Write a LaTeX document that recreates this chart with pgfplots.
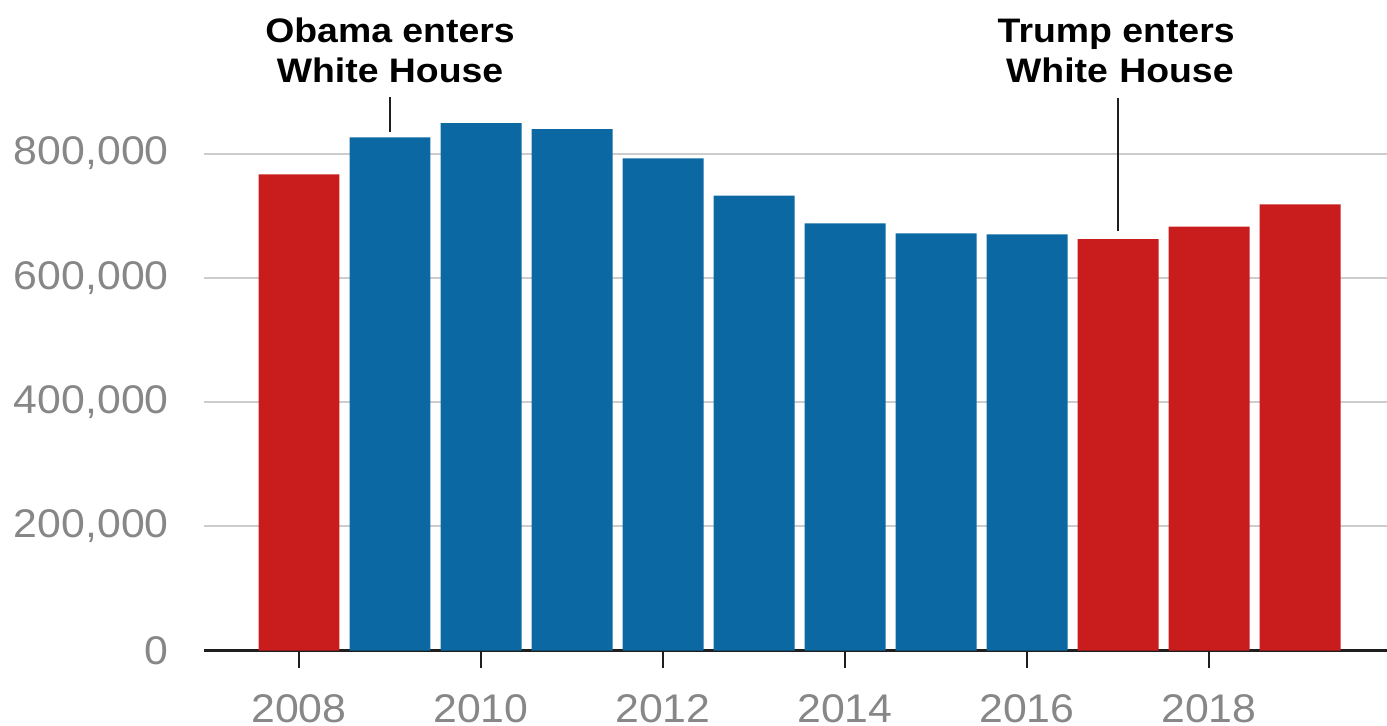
\documentclass[border=0pt]{standalone}
\usepackage{fontspec}
\setmainfont{Liberation Sans}
\newfontfamily\tickfont[FakeStretch=1.07]{Liberation Sans}
\newfontfamily\annfont[FakeStretch=1.1]{Liberation Sans}
\usepackage{pgfplots}
\pgfplotsset{compat=1.18}
\definecolor{barred}{RGB}{201,28,28}
\definecolor{barblue}{RGB}{11,104,163}
\definecolor{ticklab}{RGB}{135,135,135}
\definecolor{gridc}{RGB}{204,204,204}
\definecolor{axisc}{RGB}{30,30,30}
\begin{document}
\begin{tikzpicture}
\begin{axis}[
  scale only axis,
  width=591.5pt, height=310.6pt,
  xmin=2006.956, xmax=2019.956,
  ymin=0, ymax=1000000,
  ybar, bar width=0.89, bar shift=0pt,
  axis lines*=left,
  y axis line style={opacity=0},
  x axis line style={line width=1.75pt, color=axisc},
  xtick={2008,2010,2012,2014,2016,2018},
  xticklabels={2008,2010,2012,2014,2016,2018},
  ytick={0,200000,400000,600000,800000},
  yticklabels={0,{200,000},{400,000},{600,000},{800,000}},
  scaled y ticks=false,
  tick align=outside,
  major tick length=8.5pt,
  every x tick/.style={draw=axisc, line width=1pt},
  every y tick/.style={opacity=0},
  ymajorgrids,
  grid style={line width=1pt, color=gridc, opacity=1},
  ticklabel style={font=\tickfont\fontsize{20}{24}\selectfont, color=ticklab, inner sep=0pt},
  yticklabel style={anchor=east, xshift=-9pt},
  xticklabel style={anchor=north, yshift=-13.5pt},
  clip=false,
]
\addplot[fill=barred, draw=none] coordinates {
  (2008,766500) (2017,662400) (2018,682200) (2019,718200)
};
\addplot[fill=barblue, draw=none] coordinates {
  (2009,826100) (2010,849100) (2011,839400) (2012,792300)
  (2013,732100) (2014,687600) (2015,671500) (2016,669900)
};
\draw[line width=1pt, color=axisc] (axis cs:2009,891000) -- (axis cs:2009,834600);
\draw[line width=1pt, color=axisc] (axis cs:2017,889700) -- (axis cs:2017,675300);
\node[anchor=base, font=\annfont\bfseries\fontsize{17}{20}\selectfont, inner sep=0pt] at (axis cs:2009,979500) {Obama enters};
\node[anchor=base, font=\annfont\bfseries\fontsize{17}{20}\selectfont, inner sep=0pt] at (axis cs:2016.98,979500) {Trump enters};
\node[anchor=base, font=\annfont\bfseries\fontsize{17}{20}\selectfont, inner sep=0pt] at (axis cs:2009,915100) {White House};
\node[anchor=base, font=\annfont\bfseries\fontsize{17}{20}\selectfont, inner sep=0pt] at (axis cs:2017.02,915100) {White\,\,House};
\coordinate (o) at (rel axis cs:0,0);
\end{axis}
\pgfresetboundingbox
\path[use as bounding box] ([shift={(-102pt,-37.25pt)}]o) rectangle ([shift={(591.5pt,325.25pt)}]o);
\end{tikzpicture}
\end{document}
